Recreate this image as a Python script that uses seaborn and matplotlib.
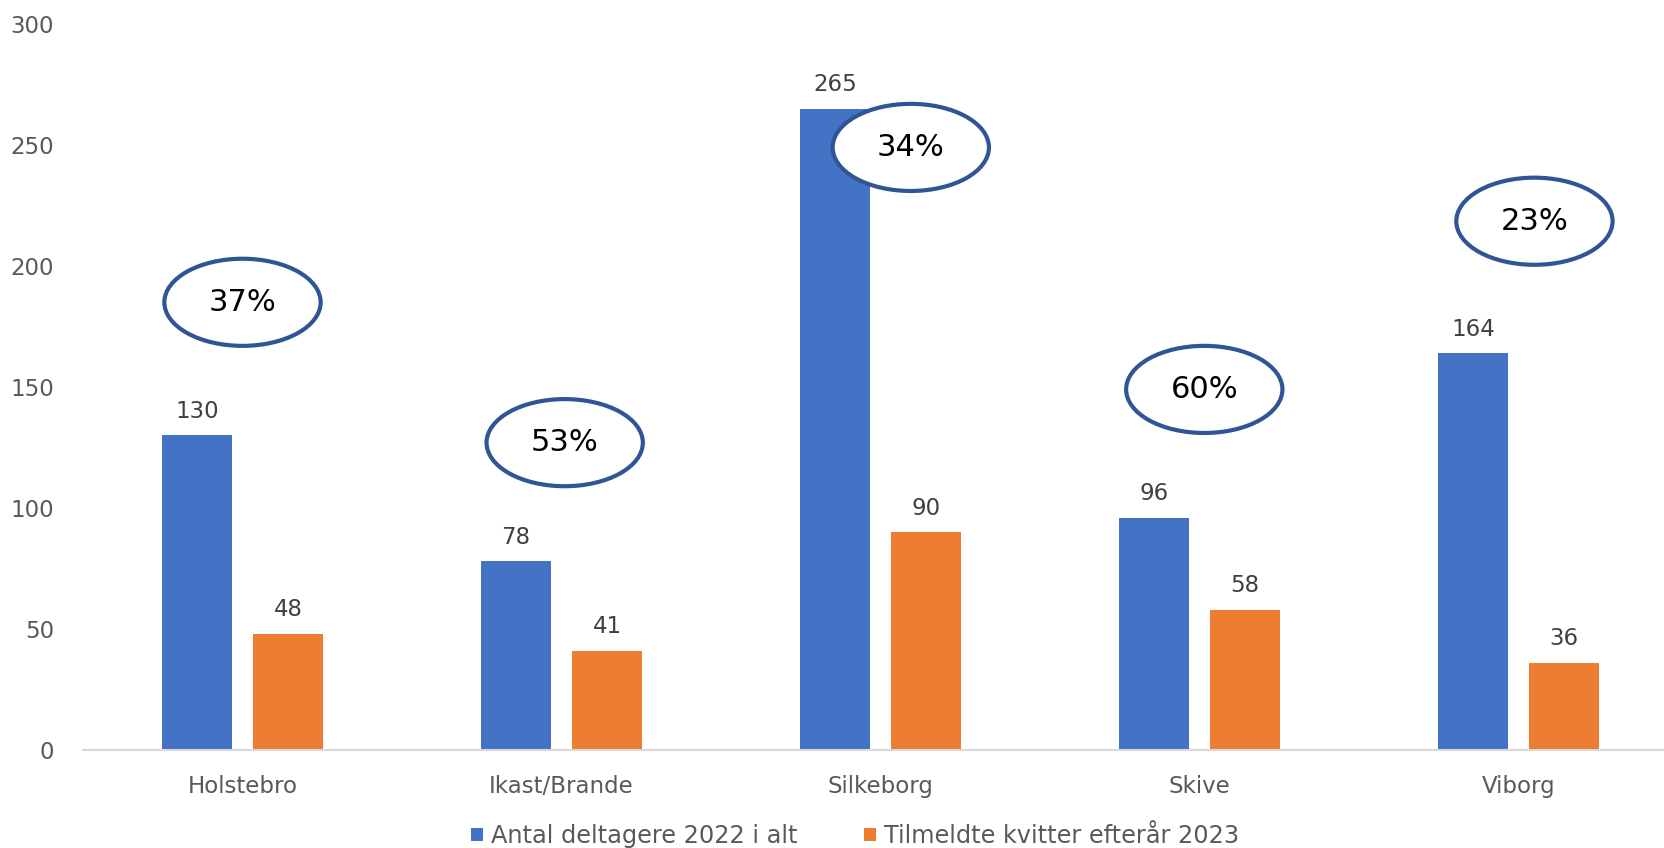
import matplotlib
matplotlib.use("Agg")
import matplotlib.pyplot as plt
from matplotlib.patches import Ellipse
import seaborn as sns
import pandas as pd

categories = ["Holstebro", "Ikast/Brande", "Silkeborg", "Skive", "Viborg"]
series_names = ["Antal deltagere 2022 i alt", "Tilmeldte kvitter efterår 2023"]
deltagere_2022 = [130, 78, 265, 96, 164]
kvitter_2023 = [48, 41, 90, 58, 36]
pct_labels = ["37%", "53%", "34%", "60%", "23%"]
yticks = [0, 50, 100, 150, 200, 250, 300]

# annotation ellipse placement (x offset from category center, y value)
ellipse_dx = [0.0, 0.01, 0.095, 0.015, 0.05]
ellipse_y = [185, 127, 249, 149, 218.5]

df = pd.DataFrame({
    "Kommune": categories * 2,
    "Serie": [series_names[0]] * 5 + [series_names[1]] * 5,
    "Antal": deltagere_2022 + kvitter_2023,
})

sns.set_theme(style="white")
plt.rcParams['font.family'] = ['DejaVu Sans']

fig = plt.figure(figsize=(16.65, 8.48), dpi=100)
ax = fig.add_axes([83 / 1665, 98 / 848, 1595 / 1665, 726 / 848])

colors = ["#4472C4", "#ED7D31"]
sns.barplot(data=df, x="Kommune", y="Antal", hue="Serie", hue_order=series_names,
            palette=colors, width=0.57, gap=0.22, ax=ax, legend=True,
            saturation=1, edgecolor="none")

for cont in ax.containers:
    ax.bar_label(cont, padding=9, fontsize=16.5, color="#404040")

ax.set_ylim(0, 300)
ax.set_xlim(-0.5, 4.5)
ax.set_yticks(yticks)
ax.set_yticklabels([str(t) for t in yticks])
ax.tick_params(axis="y", labelsize=16.5, colors="#595959", length=0, pad=21)
ax.tick_params(axis="x", labelsize=16.5, colors="#595959", length=0, pad=18)
ax.set_xlabel("")
ax.set_ylabel("")
for s in ["top", "right", "left"]:
    ax.spines[s].set_visible(False)
ax.spines["bottom"].set_color("#D9D9D9")
ax.spines["bottom"].set_linewidth(1.5)
ax.grid(False)

for i, lab in enumerate(pct_labels):
    cx = i + ellipse_dx[i]
    e = Ellipse((cx, ellipse_y[i]), width=0.49, height=36, facecolor="white",
                edgecolor="#2F5597", linewidth=3, zorder=5, clip_on=False)
    ax.add_patch(e)
    ax.text(cx, ellipse_y[i], lab, ha="center", va="center", fontsize=22,
            color="black", zorder=6)

handles, labels = ax.get_legend_handles_labels()
ax.legend(handles, labels, loc="center", bbox_to_anchor=(855 / 1665, 1 - 836 / 848),
          bbox_transform=fig.transFigure, ncol=2, frameon=False, fontsize=17.3,
          handlelength=0.5, handleheight=0.5, handletextpad=0.3,
          columnspacing=2.8, labelcolor="#595959")

fig.savefig("out.png", dpi=100)
